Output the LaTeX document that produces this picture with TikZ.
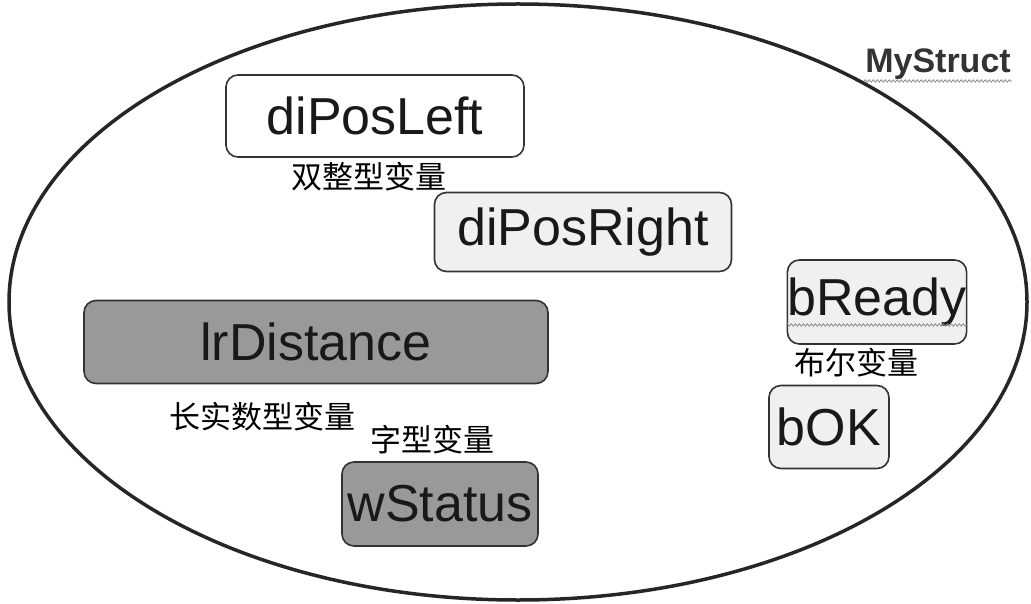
\documentclass[tikz,border=0pt]{standalone}
\usepackage{fontspec}
\setmainfont{Liberation Sans}
\newfontfamily\cjk{Noto Sans CJK SC}
\usetikzlibrary{decorations.pathmorphing,shapes.geometric}
\begin{document}
\begin{tikzpicture}[x=1pt,y=-1pt,
  var/.style={draw=black!80, line width=1.6pt, rounded corners=12pt, inner sep=0pt,
     font=\fontsize{52}{56}\selectfont, text=black!90},
  light/.style={var, fill=black!6},
  white/.style={var, fill=white},
  dark/.style={var, fill=black!40},
  lbl/.style={font=\cjk\fontsize{31}{34}\selectfont, inner sep=0pt},
  squig/.style={draw=black!45, line width=0.8pt, decorate,
     decoration={snake, amplitude=1.2pt, segment length=4pt}}]
\useasboundingbox (0,0) rectangle (1031,604);
\node[draw=black!85, line width=3.5pt, ellipse, minimum width=1018pt, minimum height=596pt, inner sep=0pt] (shell) at (518,302) {};
\node[font=\bfseries\fontsize{34}{36}\selectfont, text=black!80, inner sep=0pt] (title) at (938,64) {MyStruct};
\coordinate (t1) at (864,81);
\coordinate (t2) at (1012,81);
\draw[squig] (t1) -- (t2);
\node[white, minimum width=298pt, minimum height=82pt] (left) at (375,116) {diPosLeft};
\node[lbl] (lleft) at (369,177) {双整型变量};
\node[light, minimum width=297pt, minimum height=79pt] (right) at (583,232) {diPosRight};
\node[dark, minimum width=464pt, minimum height=83pt] (dist) at (316,342) {lrDistance};
\node[lbl] (ldist) at (262,417) {长实数型变量};
\node[lbl] (lstat) at (432,440) {字型变量};
\node[dark, minimum width=196pt, minimum height=84pt] (stat) at (440,504) {wStatus};
\node[light, minimum width=178pt, minimum height=84pt] (ready) at (877,302) {bReady};
\coordinate (r1) at (786,325);
\coordinate (r2) at (968,325);
\draw[squig] (r1) -- (r2);
\node[lbl] (lready) at (856,363) {布尔变量};
\node[light, minimum width=120pt, minimum height=83pt] (ok) at (829,427) {bOK};
\end{tikzpicture}
\end{document}
